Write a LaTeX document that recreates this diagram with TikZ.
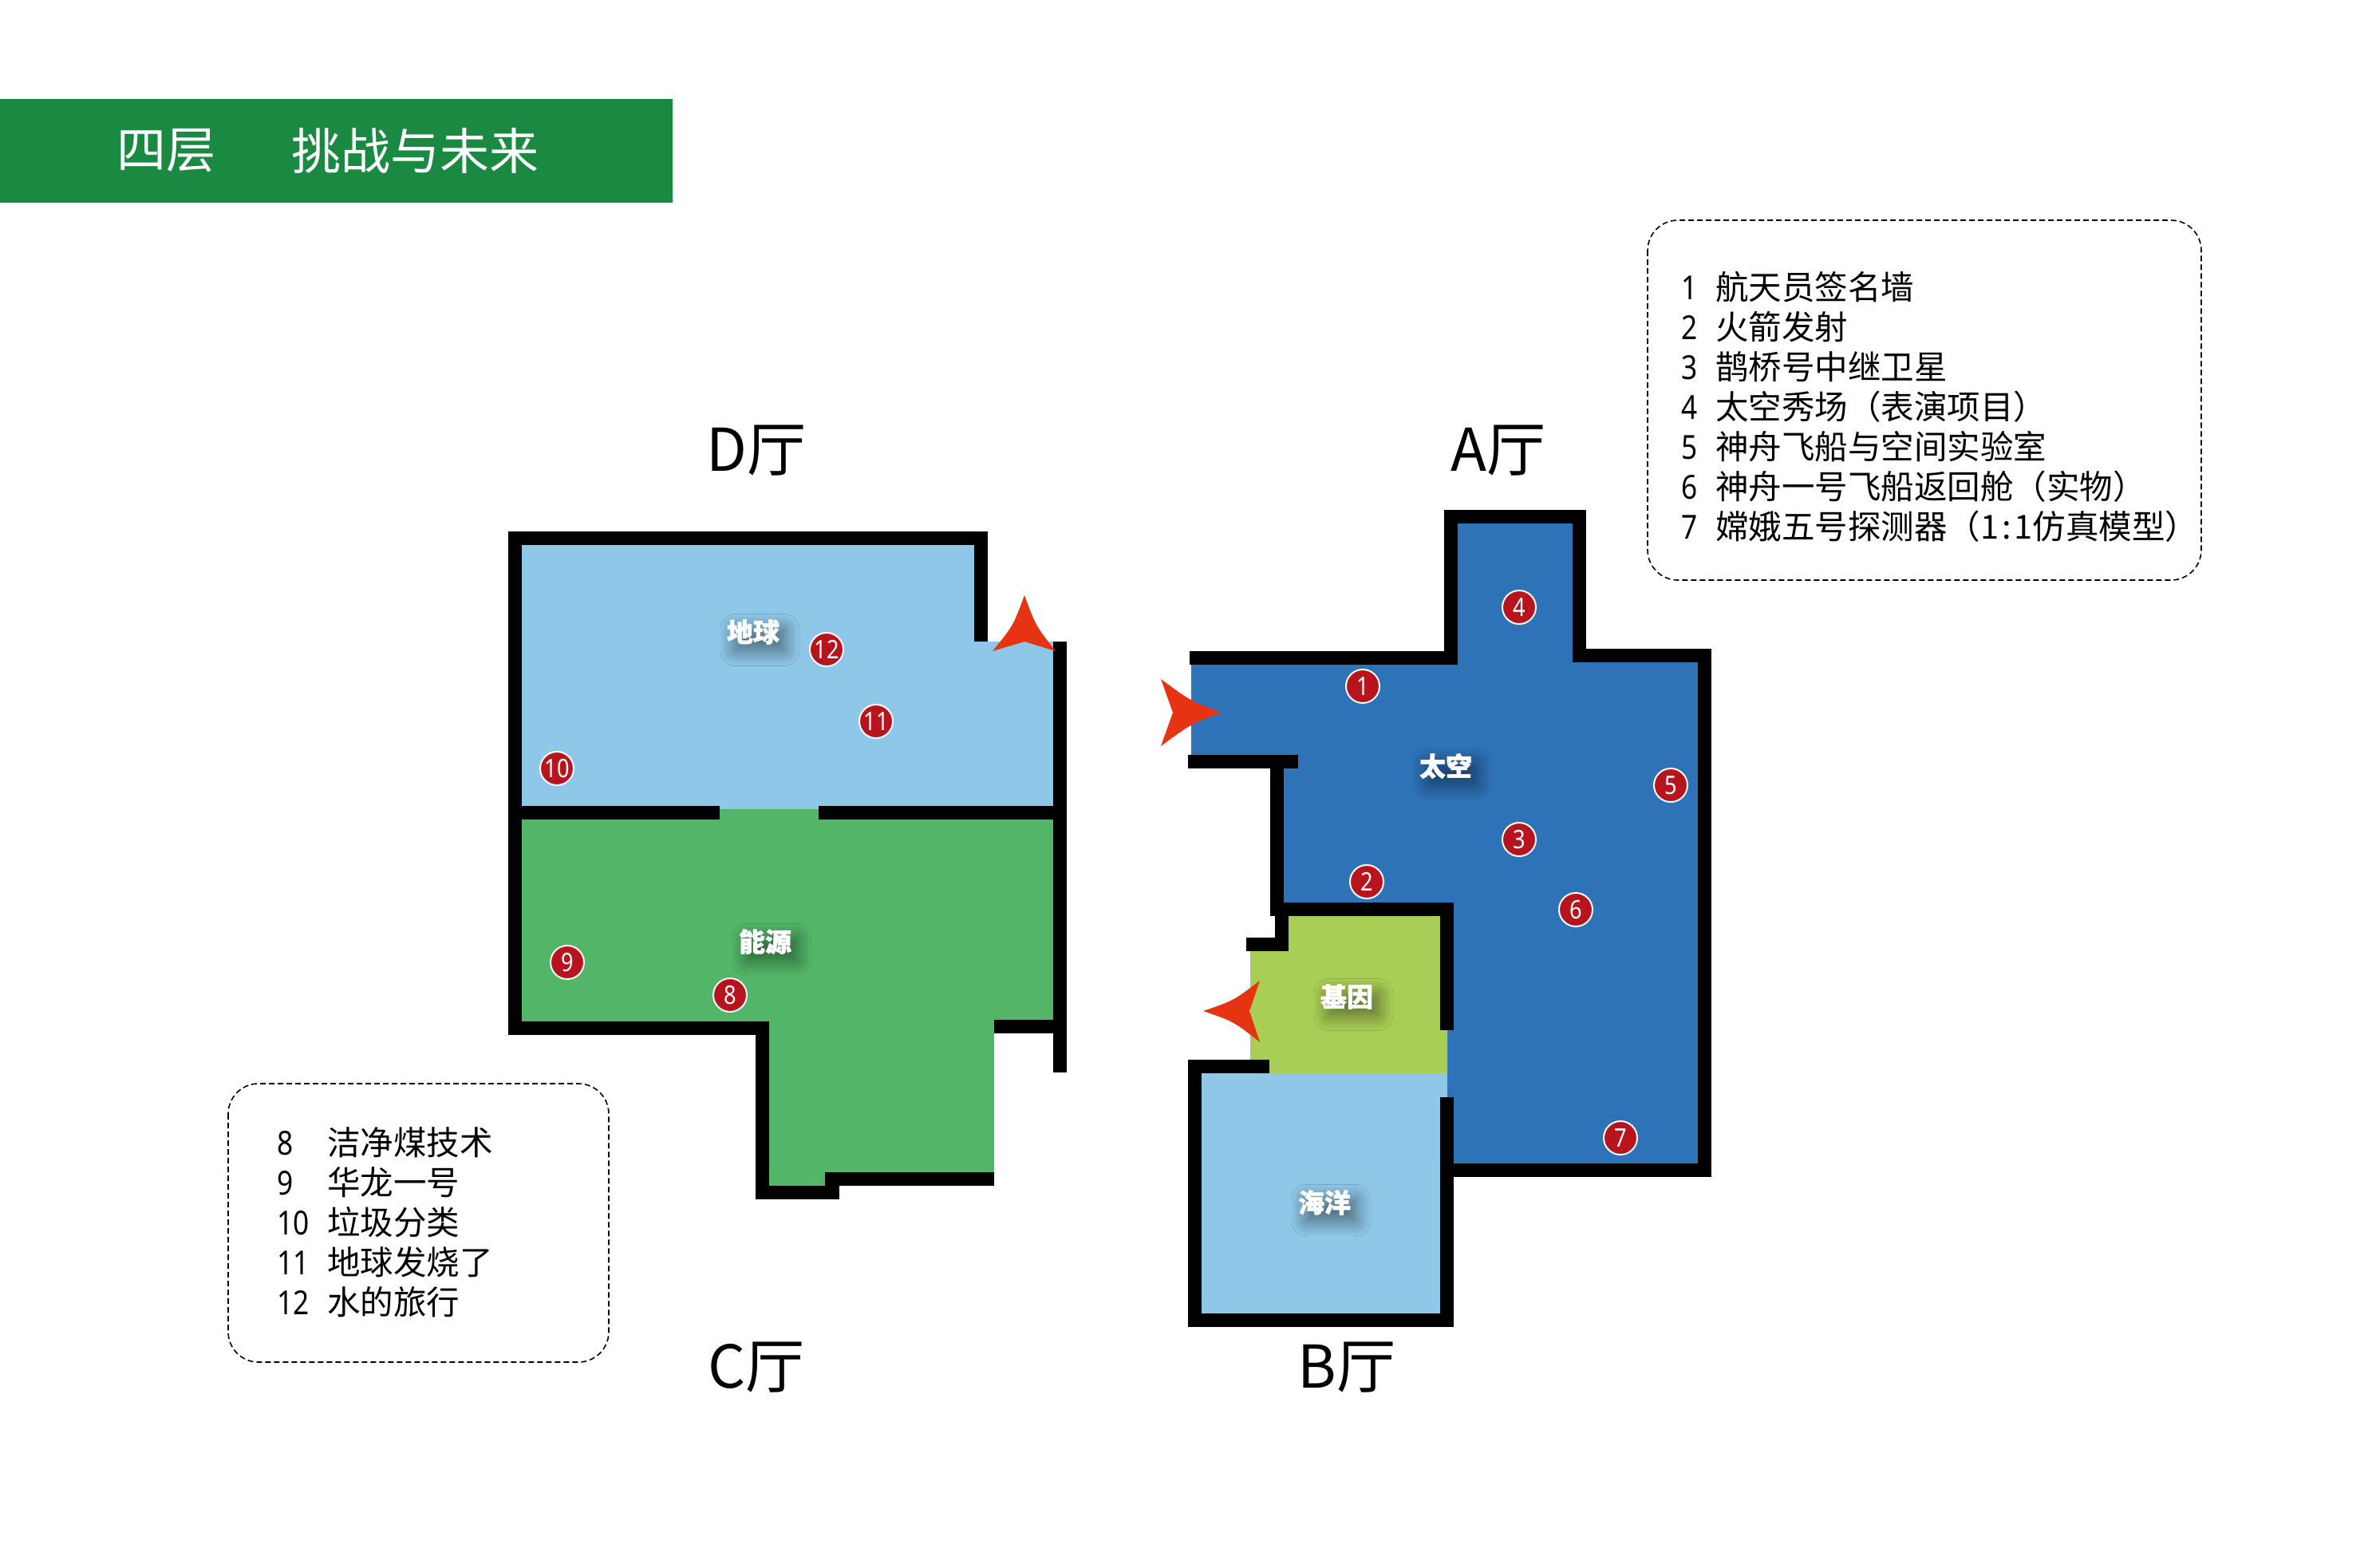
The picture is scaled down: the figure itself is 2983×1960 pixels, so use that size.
\documentclass[tikz,border=0pt]{standalone}
\usepackage{fontspec}
\usepackage{tikz}
\usetikzlibrary{shadows.blur}
\newfontfamily\cjk{Noto Sans CJK SC}
\newfontfamily\roomfont[BoldFeatures={FakeBold=1.4}]{Noto Sans CJK SC}
\newfontfamily\numfont[FakeStretch=0.85]{Noto Sans}
\definecolor{barGreen}{HTML}{1A8A42}
\definecolor{skyBlue}{HTML}{8FC7E8}
\definecolor{roomGreen}{HTML}{52B567}
\definecolor{roomBlue}{HTML}{2E72B8}
\definecolor{roomLime}{HTML}{A9CE55}
\definecolor{badgeRed}{HTML}{B8141E}
\definecolor{arrowRed}{HTML}{E63312}
\tikzset{
    wall/.style={draw=black,line width=17pt,line cap=butt,line join=miter},
    badge/.style={circle,fill=badgeRed,draw=white,line width=2pt,inner sep=0pt,minimum size=42pt,text=white,font=\fontsize{32}{32}\numfont},
    roomlabel/.style={inner sep=-3pt,text=white,font=\fontsize{33}{33}\roomfont\bfseries,blur shadow={shadow xshift=8pt,shadow yshift=-10pt,shadow blur radius=20pt,shadow blur steps=20,shadow opacity=50}},
    hall/.style={inner sep=0pt,font=\fontsize{74}{74}\cjk},
    legendbox/.style={draw=black,line width=1.6pt,dash pattern=on 7pt off 4pt,rounded corners=38pt},
    legendtext/.style={anchor=west,inner sep=0pt,text height=34pt,text depth=7pt,font=\fontsize{41.5}{41.5}\cjk},
    legendnum/.style={anchor=west,inner sep=0pt,text height=34pt,text depth=7pt,font=\fontsize{41.5}{41.5}\numfont},
    titletext/.style={anchor=west,inner sep=0pt,text=white,font=\fontsize{62}{62}\cjk},
    entry/.style={fill=arrowRed}
}
\begin{document}
\begin{tikzpicture}[x=1pt,y=-1pt]
    \useasboundingbox (0,0) rectangle (2983,1960);

    \fill[barGreen] (0,124) rectangle (843,254);
    \node[titletext] (floor) at (146,189) {四层};
    \node[titletext] (theme) at (365,189) {挑战与未来};

    \fill[skyBlue] (654,683) -- (1221,683) -- (1221,804) -- (1320,804) -- (1320,1015) -- (654,1015) -- cycle;
    \fill[roomGreen] (654,1014) -- (1320,1014) -- (1320,1280) -- (1246,1280) -- (1246,1477) -- (1034,1477) -- (1034,1486) -- (964,1486) -- (964,1280) -- (654,1280) -- cycle;
    \fill[roomBlue] (1493,833) -- (1826,833) -- (1826,656) -- (1971,656) -- (1971,829) -- (2128,829) -- (2128,1458) -- (1814,1458) -- (1814,1140) -- (1600,1140) -- (1600,955) -- (1493,955) -- cycle;
    \fill[roomLime] (1567,1192) -- (1615,1192) -- (1615,1148) -- (1814,1148) -- (1814,1347) -- (1567,1347) -- cycle;
    \fill[skyBlue] (1506,1345) rectangle (1814,1646);

    \draw[wall] (1229.5,804) -- (1229.5,674.5) -- (645.5,674.5) -- (645.5,1288.5) -- (955.5,1288.5) -- (955.5,1494.5) -- (1052,1494.5);
    \draw[wall] (1034,1477.5) -- (1246,1477.5);
    \draw[wall] (1328.5,804) -- (1328.5,1344);
    \draw[wall] (645,1018.5) -- (902,1018.5);
    \draw[wall] (1026,1018.5) -- (1328,1018.5);
    \draw[wall] (1246,1286) -- (1328,1286);

    \draw[wall] (1491,824) -- (1818,824) -- (1818,647.5) -- (1979.5,647.5) -- (1979.5,821) -- (2136.5,821) -- (2136.5,1466.5) -- (1814,1466.5);
    \draw[wall] (1489,954.5) -- (1627,954.5);
    \draw[wall] (1600,955) -- (1600,1148);
    \draw[wall] (1592,1139.5) -- (1813.5,1139.5) -- (1813.5,1291);
    \draw[wall] (1606,1148) -- (1606,1183) -- (1562,1183);
    \draw[wall] (1591,1336.5) -- (1497.5,1336.5) -- (1497.5,1654.5) -- (1813.5,1654.5) -- (1813.5,1375);

    \fill[entry] (1284,746) .. controls (1298,784) .. (1323,816) -- (1284,804) -- (1244,816) .. controls (1270,784) .. (1284,746) -- cycle;
    \fill[entry] (1531,893) .. controls (1493,879) .. (1455,851) -- (1470,893) -- (1455,935) .. controls (1493,907) .. (1531,893) -- cycle;
    \fill[entry] (1508,1267) .. controls (1546,1254) .. (1579,1229) -- (1566,1267) -- (1579,1306) .. controls (1546,1280) .. (1508,1267) -- cycle;

    \node[roomlabel] (earth) at (944,792) {地球};
    \node[roomlabel] (energy) at (959,1180) {能源};
    \node[roomlabel] (space) at (1812,960) {太空};
    \node[roomlabel] (gene) at (1688,1249) {基因};
    \node[roomlabel] (ocean) at (1660,1507) {海洋};

    \node[badge] (b1) at (1708,860) {1};
    \node[badge] (b2) at (1713,1105) {2};
    \node[badge] (b3) at (1904,1052) {3};
    \node[badge] (b4) at (1904,761) {4};
    \node[badge] (b5) at (2094,984) {5};
    \node[badge] (b6) at (1975,1140) {6};
    \node[badge] (b7) at (2031,1426) {7};
    \node[badge] (b8) at (915,1247) {8};
    \node[badge] (b9) at (711,1206) {9};
    \node[badge] (b10) at (698,963) {10};
    \node[badge] (b11) at (1098,904) {11};
    \node[badge] (b12) at (1036,814) {12};

    \node[hall] (hallD) at (948,565) {D厅};
    \node[hall] (hallA) at (1878,565) {A厅};
    \node[hall] (hallC) at (948,1714) {C厅};
    \node[hall] (hallB) at (1688,1714) {B厅};

    \draw[legendbox] (2065,276) rectangle (2759,727);
    \node[legendnum] (n1) at (2107,362) {1};
    \node[legendnum] (n2) at (2107,412) {2};
    \node[legendnum] (n3) at (2107,462) {3};
    \node[legendnum] (n4) at (2107,512) {4};
    \node[legendnum] (n5) at (2107,562) {5};
    \node[legendnum] (n6) at (2107,612) {6};
    \node[legendnum] (n7) at (2107,662) {7};
    \node[legendtext] (t1) at (2150,362) {航天员签名墙};
    \node[legendtext] (t2) at (2150,412) {火箭发射};
    \node[legendtext] (t3) at (2150,462) {鹊桥号中继卫星};
    \node[legendtext] (t4) at (2150,512) {太空秀场（表演项目）};
    \node[legendtext] (t5) at (2150,562) {神舟飞船与空间实验室};
    \node[legendtext] (t6) at (2150,612) {神舟一号飞船返回舱（实物）};
    \node[legendtext] (t7) at (2150,662) {嫦娥五号探测器（1\kern4pt:\kern4pt1仿真模型）};

    \draw[legendbox] (286,1358) rectangle (763,1707);
    \node[legendnum] (n8) at (347,1434) {8};
    \node[legendnum] (n9) at (347,1484) {9};
    \node[legendnum] (n10) at (347,1534) {10};
    \node[legendnum] (n11) at (347,1584) {11};
    \node[legendnum] (n12) at (347,1634) {12};
    \node[legendtext] (t8) at (410,1434) {洁净煤技术};
    \node[legendtext] (t9) at (410,1484) {华龙一号};
    \node[legendtext] (t10) at (410,1534) {垃圾分类};
    \node[legendtext] (t11) at (410,1584) {地球发烧了};
    \node[legendtext] (t12) at (410,1634) {水的旅行};
\end{tikzpicture}
\end{document}
